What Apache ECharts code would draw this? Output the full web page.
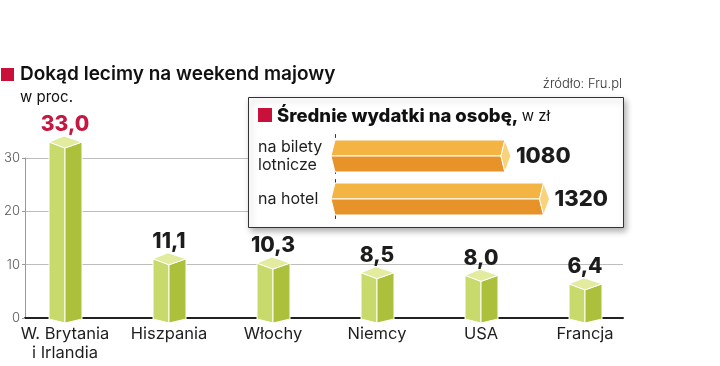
<!DOCTYPE html>
<html><head><meta charset="utf-8">
<script src="https://cdn.jsdelivr.net/npm/echarts@6/dist/echarts.min.js"></script>
<style>html,body{margin:0;padding:0;background:#fff}#c{width:720px;height:366px}</style>
</head><body><div id="c"></div><script>
const countries = ['W. Brytania\ni Irlandia', 'Hiszpania', 'Włochy', 'Niemcy', 'USA', 'Francja'];
const shares = [33.0, 11.1, 10.3, 8.5, 8.0, 6.4];
const shareLabels = ['33,0', '11,1', '10,3', '8,5', '8,0', '6,4'];
const spendCats = ['na bilety\nlotnicze', 'na hotel'];
const spendValues = [1080, 1320];
const spendLabels = ['1080', '1320'];

const F = 'Inter, "Noto Sans", sans-serif';
const chart = echarts.init(document.getElementById('c'), null, {renderer: 'canvas'});

function vbar(params, api) {
  const i = api.value(0), v = api.value(1);
  const t = api.coord([i, v]), b = api.coord([i, 0]);
  const cx = t[0], yt = t[1], y0 = b[1];
  const hl = 16, hr = 17, d = 6;
  return {type: 'group', children: [
    {type: 'polygon', shape: {points: [[cx - hl, yt], [cx, yt + d], [cx, y0 + 5], [cx - hl, y0 + 1]]},
     style: {fill: '#c8da6b', stroke: '#fff', lineWidth: 1}},
    {type: 'polygon', shape: {points: [[cx, yt + d], [cx + hr, yt], [cx + hr, y0 + 1], [cx, y0 + 5]]},
     style: {fill: '#adc03c', stroke: '#fff', lineWidth: 1}},
    {type: 'polygon', shape: {points: [[cx - hl, yt], [cx - 1, yt - d], [cx + hr, yt], [cx, yt + d]]},
     style: {fill: '#e2eb9e', stroke: '#fff', lineWidth: 1}},
    {type: 'text', style: {text: shareLabels[i], x: cx, y: yt - 17, align: 'center', verticalAlign: 'middle',
      fontFamily: F, fontWeight: 800, fontSize: 21, fill: i === 0 ? '#c5173f' : '#1c1c1c'}}
  ]};
}

function hbar(params, api) {
  const v = api.value(0), i = api.value(1);
  const e = api.coord([v, i]), s = api.coord([0, i]);
  const x0 = s[0], xe = e[0], cy = e[1], h = 16;
  return {type: 'group', children: [
    {type: 'polygon', shape: {points: [[x0, cy - h], [xe - 4, cy - h], [xe - 8, cy], [x0 - 4, cy]]},
     style: {fill: '#f3b443', stroke: '#fff', lineWidth: 1}},
    {type: 'polygon', shape: {points: [[x0 - 4, cy], [xe - 8, cy], [xe - 4, cy + h], [x0, cy + h]]},
     style: {fill: '#e8932a', stroke: '#fff', lineWidth: 1}},
    {type: 'polygon', shape: {points: [[xe - 4, cy - h], [xe + 2, cy], [xe - 4, cy + h], [xe - 8, cy]]},
     style: {fill: '#f8d37c', stroke: '#fff', lineWidth: 1}},
    {type: 'text', style: {text: spendLabels[i], x: xe + 7, y: cy, align: 'left', verticalAlign: 'middle',
      fontFamily: F, fontWeight: 800, fontSize: 22, fill: '#1c1c1c'}}
  ]};
}

chart.setOption({
  animation: false,
  backgroundColor: '#fff',
  grid: [
    {left: 25, right: 97, top: 158, bottom: 48},
    {left: 13, right: 83, top: 158, bottom: 48},
    {left: 335, right: 63, top: 134.5, bottom: 145.5}
  ],
  xAxis: [
    {gridIndex: 0, type: 'value', min: 0, max: 1, axisLabel: {show: false}, axisTick: {show: false},
     splitLine: {show: false}, axisLine: {show: true, lineStyle: {color: '#222', width: 2}}, z: 0},
    {gridIndex: 1, type: 'category', data: countries, axisLine: {show: false}, axisTick: {show: false},
     axisLabel: {margin: 7, fontFamily: F, fontSize: 16.5, color: '#1e1e1e', lineHeight: 19, interval: 0}},
    {gridIndex: 2, type: 'value', min: 0, max: 2000, show: false}
  ],
  yAxis: [
    {gridIndex: 0, type: 'value', min: 0, max: 30, interval: 10,
     axisLine: {show: true, lineStyle: {color: '#999', width: 1}},
     axisTick: {show: true, length: 3, lineStyle: {color: '#999'}},
     axisLabel: {margin: 5, fontFamily: F, fontSize: 13, fontWeight: 300, color: '#555'},
     splitLine: {show: true, lineStyle: {color: '#bdbdbd', width: 1}}, z: 0},
    {gridIndex: 1, type: 'value', min: 0, max: 30, show: false},
    {gridIndex: 2, type: 'category', data: spendCats, inverse: true, z: 5,
     axisLine: {show: true, lineStyle: {color: '#333', width: 1, type: [3, 6]}},
     axisTick: {show: false},
     axisLabel: {align: 'left', margin: 77, fontFamily: F, fontSize: 16, color: '#1e1e1e', lineHeight: 18}}
  ],
  graphic: [
    {type: 'rect', shape: {x: 1, y: 68, width: 13, height: 13}, style: {fill: '#c8103a'}},
    {type: 'text', x: 20, y: 74, style: {text: 'Dokąd lecimy na weekend majowy', fontFamily: F, fontWeight: 600,
      fontSize: 19, fill: '#111', verticalAlign: 'middle'}},
    {type: 'text', x: 20, y: 97, style: {text: 'w proc.', fontFamily: F, fontSize: 15, fill: '#111', verticalAlign: 'middle'}},
    {type: 'text', x: 622, y: 84, style: {text: 'źródło: Fru.pl', fontFamily: F, fontWeight: 300, fontSize: 13,
      fill: '#333', align: 'right', verticalAlign: 'middle'}},
    {type: 'rect', z: 1, shape: {x: 248.5, y: 97.5, width: 375, height: 130},
     style: {fill: '#fff', stroke: '#333', lineWidth: 1, shadowBlur: 6, shadowOffsetX: 2, shadowOffsetY: 3, shadowColor: 'rgba(0,0,0,0.3)'}},
    {type: 'rect', z: 2, shape: {x: 258, y: 108, width: 14, height: 14}, style: {fill: '#c8103a'}},
    {type: 'text', z: 2, x: 277, y: 116, style: {text: '{b|Średnie wydatki na osobę,} {r|w zł}', verticalAlign: 'middle',
      rich: {b: {fontFamily: F, fontWeight: 800, fontSize: 18.5, fill: '#111'}, r: {fontFamily: F, fontSize: 15, fill: '#111'}}}}
  ],
  series: [
    {type: 'custom', xAxisIndex: 1, yAxisIndex: 1, renderItem: vbar, z: 3,
     data: shares.map((v, i) => [i, v])},
    {type: 'custom', xAxisIndex: 2, yAxisIndex: 2, renderItem: hbar, z: 10,
     data: spendValues.map((v, i) => [v, i])}
  ]
});
</script></body></html>
